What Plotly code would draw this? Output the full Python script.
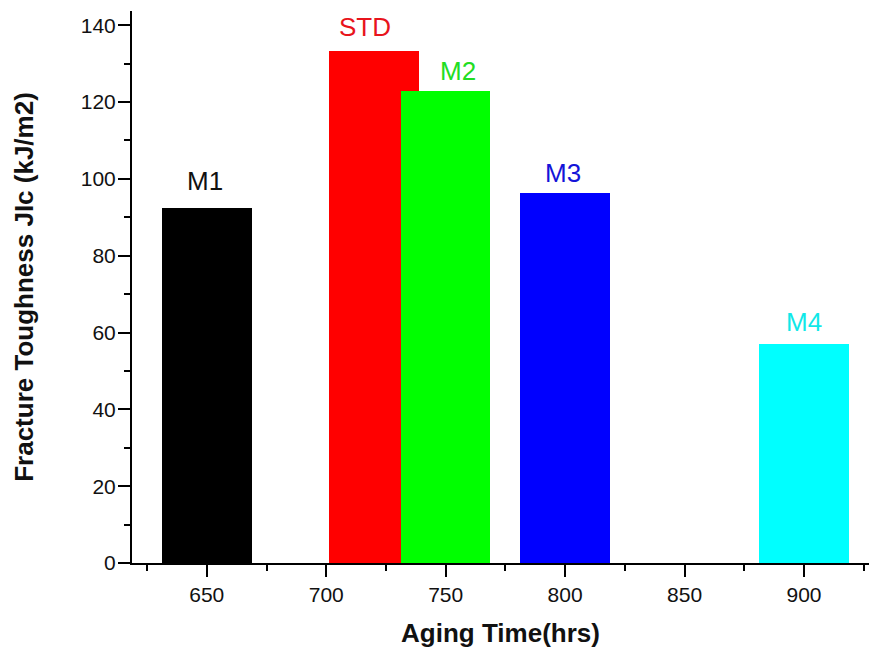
import plotly.graph_objects as go

# Fracture toughness of each material versus aging time
materials = ["M1", "STD", "M2", "M3", "M4"]
aging_hrs = [650, 720, 750, 800, 900]
toughness_jic = [92.5, 133.3, 122.9, 96.3, 57.1]
bar_colors = ["#000000", "#ff0000", "#00ff00", "#0000ff", "#00ffff"]
label_colors = ["#111111", "#e8141c", "#22dd22", "#1414d8", "#10e8e8"]

# small nudges so neighbouring labels do not collide
label_dx = [-2, -9, 12, -2, 0]
label_dy = [27, 24, 20, 20, 22]

FONT = "Arial, Liberation Sans, sans-serif"

fig = go.Figure()
fig.add_trace(go.Bar(
    x=aging_hrs,
    y=toughness_jic,
    width=37.5,
    marker=dict(color=bar_colors, line=dict(width=0)),
    showlegend=False,
    hoverinfo="skip",
))

for name, xv, yv, c, dx, dy in zip(materials, aging_hrs, toughness_jic,
                                   label_colors, label_dx, label_dy):
    fig.add_annotation(
        x=xv, y=yv, text=name, showarrow=False,
        xanchor="center", yanchor="middle",
        xshift=dx, yshift=dy,
        font=dict(family=FONT, size=26, color=c),
    )

axis_common = dict(
    showline=True, linecolor="black", linewidth=2,
    ticks="outside", ticklen=12, tickwidth=2, tickcolor="black",
    showgrid=False, zeroline=False,
    tickfont=dict(family=FONT, size=21, color="#111111"),
)

fig.update_xaxes(
    range=[618.7, 927.2],
    tick0=650, dtick=50,
    minor=dict(ticks="outside", ticklen=6, tickwidth=2, tickcolor="black",
               dtick=25, tick0=625, showgrid=False),
    title=dict(text="<b>Aging Time(hrs)</b>", standoff=19,
               font=dict(family=FONT, size=26, color="#111111")),
    **axis_common,
)
fig.update_yaxes(
    range=[0, 143.7],
    tick0=0, dtick=20,
    ticklabelstandoff=-2,
    minor=dict(ticks="outside", ticklen=6, tickwidth=2, tickcolor="black",
               dtick=10, tick0=0, showgrid=False),
    title=dict(text="<b>Fracture Toughness JIc (kJ/m2)</b>", standoff=40,
               font=dict(family=FONT, size=26, color="#111111")),
    **axis_common,
)

fig.update_layout(
    width=869, height=650,
    margin=dict(l=132, r=0, t=11, b=87),
    plot_bgcolor="white", paper_bgcolor="white",
    barmode="overlay",
    bargap=0,
)

fig.write_html("out.html")
